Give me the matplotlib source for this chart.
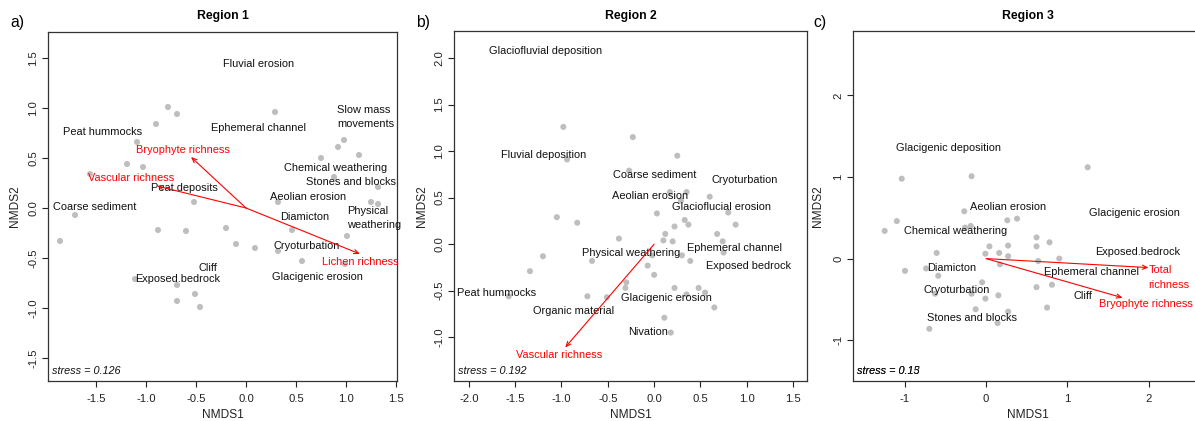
import matplotlib
matplotlib.use("Agg")
import matplotlib.pyplot as plt
from matplotlib.ticker import FixedLocator, FixedFormatter

plt.rcParams['font.family'] = ['Liberation Sans', 'DejaVu Sans']
plt.rcParams['axes.unicode_minus'] = False

# ---------------- Region 1 ----------------
r1_x = [-0.78, -0.69, -0.90, 0.29, -1.09, -1.19, -1.03, -1.56, -0.52, 0.32,
        0.98, 0.92, 1.13, 0.75, 0.88, 1.32, 1.25, 1.32,
        -1.71, -1.86, -0.88, -0.60, -0.20, -0.10, 0.09, 0.32, 0.46, 0.56,
        1.01, 0.99, -1.11, -0.69, -0.51, -0.69, -0.46]
r1_y = [1.01, 0.94, 0.84, 0.96, 0.66, 0.44, 0.41, 0.34, 0.06, 0.06,
        0.68, 0.61, 0.53, 0.50, 0.31, 0.21, 0.06, 0.04,
        -0.07, -0.33, -0.22, -0.23, -0.20, -0.36, -0.40, -0.43, -0.22, -0.53,
        -0.28, -0.56, -0.71, -0.77, -0.86, -0.93, -0.99]
r1_labels = ["Fluvial erosion", "Peat hummocks", "Ephemeral channel",
             "Chemical weathering", "Stones and blocks", "Peat deposits",
             "Aeolian erosion", "Coarse sediment", "Diamicton", "Cryoturbation",
             "Cliff", "Exposed.bedrock", "Glacigenic erosion"]
r1_lab_x = [0.13, -1.43, 0.13, 0.90, 1.05, -0.62, 0.62, -1.51, 0.59, 0.61, -0.38, -0.68, 0.71]
r1_lab_y = [1.44, 0.76, 0.80, 0.40, 0.26, 0.20, 0.11, 0.01, -0.09, -0.38, -0.60, -0.71, -0.69]
r1_left_labels = ["Slow mass\nmovements", "Physical\nweathering"]
r1_left_x = [0.91, 1.01]
r1_left_y = [0.91, -0.10]
r1_vec_names = ["Bryophyte richness", "Vascular richness", "Lichen richness"]
r1_vec_x = [-0.55, -0.89, 1.14]
r1_vec_y = [0.51, 0.22, -0.46]
r1_vec_lab_x = [-0.63, -1.15, 1.14]
r1_vec_lab_y = [0.58, 0.30, -0.54]
r1_stress = ["stress = 0.126"]

# ---------------- Region 2 ----------------
r2_x = [-0.98, -0.23, 0.25, -0.94, -0.27, 0.17, 0.35, 0.29, 0.60,
        -1.05, 0.03, -0.83, 0.80, 0.33, 0.37, 0.88, 0.22, 0.12, 0.68,
        -0.38, 0.10, 0.20, 0.74, 0.75, 0.30, -0.02, -1.20, -0.67, 0.39,
        -0.07, -1.34, 0.00, -0.30, -0.31, 0.22, 0.48, 0.55, 0.35, -1.57,
        -0.72, -0.51, 0.65, 0.11, 0.18]
r2_y = [1.26, 1.15, 0.95, 0.91, 0.79, 0.56, 0.56, 0.47, 0.51,
        0.29, 0.33, 0.23, 0.34, 0.26, 0.21, 0.21, 0.19, 0.11, 0.11,
        0.06, 0.04, 0.03, 0.03, -0.09, -0.12, -0.12, -0.13, -0.18, -0.18,
        -0.23, -0.29, -0.33, -0.41, -0.47, -0.47, -0.47, -0.52, -0.54, -0.56,
        -0.56, -0.57, -0.68, -0.79, -0.95]
r2_labels = ["Glaciofluvial deposition", "Fluvial deposition", "Coarse sediment",
             "Cryoturbation", "Aeolian erosion", "Glacioflucial erosion",
             "Physical weathering", "Ephemeral channel", "Exposed bedrock",
             "Peat hummocks", "Glacigenic erosion", "Organic material", "Nivation"]
r2_lab_x = [-1.17, -1.19, 0.01, 0.98, -0.04, 0.73, -0.25, 0.87, 1.02, -1.70, 0.13, -0.87, -0.07]
r2_lab_y = [2.08, 0.96, 0.74, 0.69, 0.52, 0.40, -0.09, -0.04, -0.23, -0.52, -0.58, -0.72, -0.94]
r2_vec_names = ["Vascular richness"]
r2_vec_x = [-0.96]
r2_vec_y = [-1.11]
r2_vec_lab_x = [-1.02]
r2_vec_lab_y = [-1.19]
r2_stress = ["stress = 0.192"]

# ---------------- Region 3 ----------------
r3_x = [-1.04, -0.18, 1.25, -0.27, -1.10, 0.26, 0.38, -1.25, -0.26, -0.19,
        0.62, 0.78, 0.04, 0.27, 0.62, -0.61, -0.01, 0.16, 0.27, 0.90, 0.64,
        0.17, -1.00, -0.74, -0.59, -0.05, 0.62, 0.81, -0.63, -0.18, 0.15,
        -0.01, 0.75, -0.13, 0.27, 0.14, -0.70]
r3_y = [0.98, 1.01, 1.12, 0.58, 0.46, 0.47, 0.49, 0.34, 0.38, 0.40,
        0.26, 0.20, 0.15, 0.16, 0.15, 0.07, 0.06, 0.07, 0.03, 0.00, -0.03,
        -0.07, -0.15, -0.12, -0.21, -0.29, -0.35, -0.32, -0.43, -0.43, -0.45,
        -0.49, -0.60, -0.62, -0.65, -0.79, -0.86]
r3_labels = ["Glacigenic deposition", "Aeolian erosion", "Glacigenic erosion",
             "Chemical weathering", "Exposed.bedrock", "Diamicton",
             "Ephemeral channel", "Cryoturbation", "Cliff", "Stones and blocks"]
r3_lab_x = [-0.46, 0.27, 1.82, -0.38, 1.87, -0.43, 1.30, -0.36, 1.19, -0.17]
r3_lab_y = [1.36, 0.63, 0.56, 0.34, 0.08, -0.11, -0.17, -0.38, -0.46, -0.73]
r3_vec_names = ["Total\nrichness", "Bryophyte richness"]
r3_vec_x = [2.00, 1.68]
r3_vec_y = [-0.11, -0.48]
r3_vec_lab_x = [2.00, 1.97]
r3_vec_lab_y = [-0.23, -0.56]
r3_vec_lab_ha = ["left", "center"]
r3_stress = ["stress = 0.13", "stress = 0.15"]

W, H = 1195, 421
fig = plt.figure(figsize=(W / 100, H / 100), dpi=100)

def px_axes(l, r, t, b):
    return fig.add_axes([l / W, (H - b) / H, (r - l) / W, (b - t) / H])

TXT = 7.9
GREY = "#BEBEBE"
RED = "#FF0000"
LS = 1.55

def setup(ax, xlim, ylim, xt, yt, xtl, ytl, title, letter, letter_px, xlab_y, ylab_x):
    ax.set_xlim(*xlim)
    ax.set_ylim(*ylim)
    ax.xaxis.set_major_locator(FixedLocator(xt))
    ax.yaxis.set_major_locator(FixedLocator(yt))
    ax.xaxis.set_major_formatter(FixedFormatter(xtl))
    ax.yaxis.set_major_formatter(FixedFormatter(ytl))
    ax.tick_params(direction='out', length=4, width=0.8, labelsize=8.1, colors='#222222')
    ax.tick_params(axis='x', pad=5)
    ax.tick_params(axis='y', pad=3)
    for lab in ax.get_yticklabels():
        lab.set_rotation(90)
        lab.set_va('center')
    for s in ax.spines.values():
        s.set_linewidth(0.9)
        s.set_color('#333333')
    ax.set_title(title, fontsize=8.8, fontweight='bold', pad=9)
    ax.set_xlabel("NMDS1", fontsize=8.6, color='#222222', va='center')
    ax.set_ylabel("NMDS2", fontsize=8.6, color='#222222', va='center')
    ax.xaxis.set_label_coords(0.5, xlab_y)
    ax.yaxis.set_label_coords(ylab_x, 0.5)
    fig.text(letter_px[0] / W, 1 - letter_px[1] / H, letter, fontsize=11.3,
             ha='left', va='center')

def draw(ax, xs, ys, labs, lx, ly, vn, vx, vy, vlx, vly, stress, vha=None):
    ax.scatter(xs, ys, s=19, color=GREY, edgecolors='none', zorder=2)
    for t, x, y in zip(labs, lx, ly):
        ax.text(x, y, t, fontsize=TXT, ha='center', va='center', color='#111111', zorder=3)
    for i, (n, x, y, tx, ty) in enumerate(zip(vn, vx, vy, vlx, vly)):
        ax.annotate("", xy=(x, y), xytext=(0, 0),
                    arrowprops=dict(arrowstyle='->,head_length=0.35,head_width=0.15',
                                    color=RED, lw=0.8, shrinkA=0, shrinkB=0), zorder=4)
        ha = vha[i] if vha else 'center'
        ax.text(tx, ty, n, fontsize=TXT, ha=ha, va='center', color=RED,
                multialignment='left', linespacing=LS, zorder=4)
    for s in stress:
        ax.text(0.012, 0.03, s, transform=ax.transAxes, fontsize=7.8, style='italic',
                ha='left', va='center', color='#111111')

ax1 = px_axes(48, 397, 32, 381)
t1 = [-1.5, -1.0, -0.5, 0.0, 0.5, 1.0, 1.5]
t1l = ["-1.5", "-1.0", "-0.5", "0.0", "0.5", "1.0", "1.5"]
setup(ax1, (-1.98, 1.51), (-1.73, 1.76), t1, t1, t1l, t1l,
      "Region 1", "a)", (10, 23), -0.097, -0.095)
draw(ax1, r1_x, r1_y, r1_labels, r1_lab_x, r1_lab_y, r1_vec_names, r1_vec_x, r1_vec_y,
     r1_vec_lab_x, r1_vec_lab_y, r1_stress)
for t, x, y in zip(r1_left_labels, r1_left_x, r1_left_y):
    ax1.text(x, y, t, fontsize=TXT, ha='left', va='center', color='#111111',
             multialignment='left', linespacing=LS, zorder=3)

ax2 = px_axes(454, 807, 31, 381)
setup(ax2, (-2.16, 1.65), (-1.47, 2.29),
      [-2.0, -1.5, -1.0, -0.5, 0.0, 0.5, 1.0, 1.5],
      [-1.0, -0.5, 0.0, 0.5, 1.0, 1.5, 2.0],
      ["-2.0", "-1.5", "-1.0", "-0.5", "0.0", "0.5", "1.0", "1.5"],
      ["-1.0", "-0.5", "0.0", "0.5", "1.0", "1.5", "2.0"],
      "Region 2", "b)", (416, 23), -0.097, -0.09)
draw(ax2, r2_x, r2_y, r2_labels, r2_lab_x, r2_lab_y, r2_vec_names, r2_vec_x, r2_vec_y,
     r2_vec_lab_x, r2_vec_lab_y, r2_stress)

ax3 = px_axes(853, 1203, 31, 381)
setup(ax3, (-1.64, 2.67), (-1.50, 2.79), [-1, 0, 1, 2, 3], [-1, 0, 1, 2],
      ["-1", "0", "1", "2", "3"], ["-1", "0", "1", "2"],
      "Region 3", "c)", (813, 23), -0.097, -0.1)
draw(ax3, r3_x, r3_y, r3_labels, r3_lab_x, r3_lab_y, r3_vec_names, r3_vec_x, r3_vec_y,
     r3_vec_lab_x, r3_vec_lab_y, r3_stress, vha=r3_vec_lab_ha)

fig.savefig("out.png", dpi=100)
